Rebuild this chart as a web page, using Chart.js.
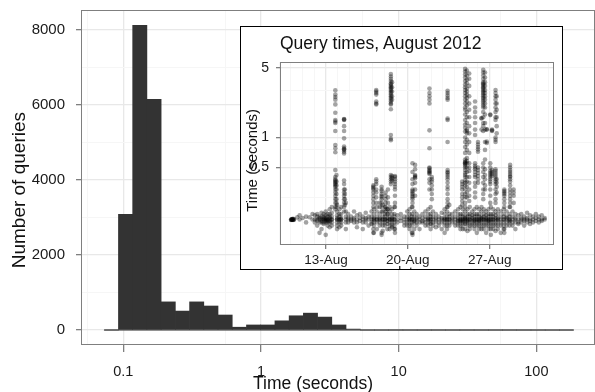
<!DOCTYPE html>
<html>
<head>
<meta charset="utf-8">
<script src="https://cdn.jsdelivr.net/npm/chart.js@4.4.1/dist/chart.umd.min.js"></script>
<style>
  body { margin: 0; background: #fff; }
  #wrap { position: relative; width: 595px; height: 392px; overflow: hidden; background: #fff;
          font-family: "Liberation Sans", Arial, Helvetica, sans-serif; color: #111; }
  canvas { position: absolute; left: 0; top: 0; display: block; }
  .lbl { position: absolute; white-space: nowrap; line-height: 1; font-weight: normal; }
  .vert { position: absolute; top: 0; display: flex; align-items: center; justify-content: center; }
  .vert span { writing-mode: vertical-rl; transform: rotate(180deg); white-space: nowrap; line-height: 1; }
  #inset { position: absolute; left: 240px; top: 26px; width: 321px; height: 242px;
           border: 1px solid #000; background: #fff; overflow: hidden; }
</style>
</head>
<body>
<div id="wrap">
  <canvas id="main" width="595" height="392"></canvas>
  <div class="vert" style="left:8px;width:20px;height:380px;font-size:19px"><span>Number of queries</span></div>
  <div class="lbl" style="left:313px;top:384px;font-size:17.5px;transform:translate(-50%,-50%)">Time (seconds)</div>
  <div id="inset">
    <canvas id="insetChart" width="321" height="242"></canvas>
    <div class="lbl" style="left:39px;top:8px;font-size:17.5px">Query times, August 2012</div>
    <div class="vert" style="left:2px;width:16px;height:266px;font-size:15px"><span>Time (seconds)</span></div>
    <div class="lbl" style="left:166px;top:238px;font-size:14px;transform:translateX(-50%)">date</div>
  </div>
</div>
<script>
// histogram: bin edges in seconds (equal width on the log axis) and counts per bin
const binEdges = [0.0727, 0.0922, 0.1170, 0.1484, 0.1883, 0.2388, 0.3030, 0.3843, 0.4875, 0.6184,
  0.7845, 0.9950, 1.262, 1.601, 2.031, 2.576, 3.268, 4.146, 5.259, 6.672, 8.464, 10.74, 13.62,
  17.28, 21.92, 27.80, 35.27, 44.74, 56.76, 72.00, 91.34, 115.9, 147.0, 186.4];
const binCounts = [0, 3080, 8120, 6150, 750, 505, 750, 640, 400, 75, 135, 135, 245, 380, 450,
  345, 135, 25, 0, 0, 0, 0, 0, 0, 0, 0, 0, 0, 0, 0, 0, 0, 0];

const xTickValues = [0.1, 1, 10, 100];
const xTickLabels = ['0.1', '1', '10', '100'];
const xMinorValues = [0.055, 0.55, 5.5, 55];
const yTickValues = [0, 2000, 4000, 6000, 8000];
const yMinorValues = [1000, 3000, 5000, 7000];

// inset: day of August 2012 and query times (seconds)
const insetBaseline = [
  [10.02,[0.150,0.148,0.149]],[10.1,[0.151,0.149,0.150,0.150]],[10.18,[0.150,0.152,0.148,0.149]],[10.27,[0.149,0.151]],
  [10.55,[0.158]],[10.75,[0.150,0.165]],[11.0,[0.155]],[11.3,[0.16,0.14]],[11.6,[0.158]],[11.85,[0.15,0.17]],
  [12.05,[0.165,0.15,0.14]],[12.25,[0.17,0.16,0.15,0.145,0.13]],[12.45,[0.16,0.155,0.15,0.14,0.11]],
  [12.62,[0.175,0.16,0.15,0.145,0.14,0.12]],[12.8,[0.17,0.16,0.155,0.15,0.14,0.135,0.15]],
  [12.98,[0.18,0.165,0.155,0.15,0.145,0.14,0.105,0.15]],[13.15,[0.17,0.16,0.15,0.145,0.14,0.13,0.15]],
  [13.32,[0.19,0.17,0.16,0.15,0.145,0.14,0.125,0.155]],[13.5,[0.2,0.175,0.16,0.15,0.14,0.13,0.15]],
  [13.95,[0.21,0.18,0.165,0.155,0.15,0.14,0.13,0.12,0.15]],[14.15,[0.19,0.17,0.16,0.15,0.14,0.125,0.15]],
  [14.3,[0.2,0.17,0.155,0.15,0.14,0.13,0.15]],[14.7,[0.22,0.18,0.16,0.15,0.14,0.12]],
  [14.9,[0.17,0.155,0.15,0.14]],[15.15,[0.16,0.15,0.145]],[15.4,[0.18,0.155,0.15,0.14]],
  [15.65,[0.165,0.15,0.14,0.125]],[15.9,[0.17,0.155,0.145]],[16.15,[0.16,0.15,0.14,0.12]],
  [16.4,[0.175,0.155,0.15,0.14]],[16.65,[0.16,0.15,0.13]],[16.9,[0.18,0.16,0.15,0.14,0.135]],
  [17.1,[0.19,0.17,0.155,0.15,0.14,0.13,0.11,0.15]],[17.35,[0.2,0.18,0.16,0.15,0.14,0.12,0.15]],
  [17.6,[0.22,0.2,0.17,0.155,0.15,0.14,0.13,0.15]],[17.85,[0.21,0.18,0.16,0.15,0.14,0.13,0.115,0.15]],
  [18.05,[0.2,0.17,0.16,0.15,0.14,0.13,0.15]],[18.25,[0.19,0.17,0.155,0.15,0.145,0.135,0.12]],
  [18.45,[0.2,0.18,0.16,0.15,0.14,0.13,0.12,0.15]],[18.65,[0.19,0.17,0.155,0.15,0.14,0.13,0.125,0.15]],
  [18.85,[0.2,0.17,0.16,0.15,0.14,0.13,0.12,0.15]],[19.1,[0.165,0.15,0.14]],[19.4,[0.17,0.155,0.145]],
  [19.7,[0.16,0.15,0.14,0.13]],[19.95,[0.18,0.16,0.15,0.14,0.13]],[20.15,[0.19,0.17,0.155,0.15,0.14,0.13,0.12,0.15]],
  [20.35,[0.2,0.17,0.16,0.15,0.14,0.13,0.11,0.15]],[20.55,[0.18,0.16,0.15,0.145,0.14,0.12]],
  [20.75,[0.17,0.155,0.15,0.14,0.13]],[21.0,[0.16,0.15,0.14,0.12]],[21.25,[0.17,0.155,0.145,0.14]],
  [21.5,[0.18,0.16,0.15,0.14,0.13]],[21.75,[0.19,0.17,0.155,0.15,0.14,0.13,0.15]],
  [21.95,[0.2,0.17,0.16,0.15,0.14,0.135,0.12,0.15]],[22.15,[0.18,0.16,0.15,0.14,0.13]],
  [22.4,[0.17,0.155,0.15,0.14,0.125]],[22.65,[0.16,0.15,0.14,0.13]],[22.9,[0.175,0.155,0.15,0.14,0.12]],
  [23.15,[0.19,0.17,0.155,0.15,0.14,0.13,0.11,0.15]],[23.35,[0.2,0.18,0.16,0.15,0.14,0.13,0.12,0.15]],
  [23.55,[0.21,0.17,0.16,0.15,0.14,0.13,0.15]],[23.8,[0.17,0.155,0.15,0.14]],[24.05,[0.18,0.16,0.15,0.14,0.13]],
  [24.3,[0.19,0.17,0.155,0.15,0.145,0.14,0.13]],[24.5,[0.2,0.17,0.16,0.15,0.145,0.14,0.13,0.12,0.15]],
  [24.7,[0.19,0.17,0.16,0.15,0.145,0.14,0.13,0.12,0.15]],[24.9,[0.2,0.18,0.16,0.155,0.15,0.14,0.135,0.12,0.15]],
  [25.1,[0.19,0.17,0.16,0.15,0.145,0.14,0.13,0.115,0.15]],[25.3,[0.2,0.17,0.16,0.15,0.14,0.13,0.12,0.15]],
  [25.5,[0.18,0.165,0.155,0.15,0.14,0.13]],[25.7,[0.19,0.17,0.16,0.15,0.145,0.14,0.13,0.12,0.15]],
  [25.9,[0.2,0.17,0.16,0.15,0.14,0.13,0.11,0.15]],[26.1,[0.19,0.17,0.16,0.15,0.145,0.14,0.13,0.12,0.15]],
  [26.3,[0.2,0.18,0.16,0.155,0.15,0.14,0.13,0.12,0.15]],[26.5,[0.19,0.17,0.16,0.15,0.14,0.13,0.12,0.15]],
  [26.7,[0.18,0.165,0.155,0.15,0.14,0.13,0.11,0.15]],[26.9,[0.19,0.17,0.16,0.15,0.145,0.14,0.13,0.12,0.15]],
  [27.1,[0.2,0.17,0.16,0.15,0.14,0.13,0.12,0.105,0.15]],[27.3,[0.19,0.17,0.16,0.15,0.14,0.13,0.12,0.15]],
  [27.5,[0.18,0.165,0.155,0.15,0.14,0.13,0.115]],[27.7,[0.19,0.17,0.155,0.15,0.14,0.13,0.12,0.15]],
  [27.95,[0.18,0.16,0.15,0.14,0.13,0.11]],[28.2,[0.19,0.17,0.16,0.15,0.14,0.13,0.12,0.15]],
  [28.45,[0.18,0.16,0.155,0.15,0.14,0.13]],[28.7,[0.2,0.17,0.16,0.15,0.145,0.14,0.13,0.15]],
  [28.95,[0.18,0.16,0.15,0.14,0.13]],[29.2,[0.17,0.155,0.15,0.14,0.12]],[29.45,[0.165,0.15,0.14,0.135]],
  [29.7,[0.17,0.155,0.15,0.14]],[29.95,[0.16,0.15,0.145,0.13]],[30.2,[0.175,0.155,0.15,0.14]],
  [30.45,[0.165,0.15,0.145,0.135]],[30.7,[0.16,0.15,0.14]],[30.95,[0.17,0.155,0.145]],
  [31.2,[0.16,0.15,0.14]],[31.45,[0.165,0.15,0.145]],[31.7,[0.155,0.15]]
];
const insetStreaks = [
  [13.8,[2.98,2.7,2.55,2.4,2.15,1.77,1.5,1.45,1.4,1.16,0.84,0.78,0.71,0.47,0.4,0.38,0.37,0.36,0.35,0.34,0.33,0.32,0.3,0.28,0.26,0.24,0.22,0.2,0.19]],
  [13.9,[0.42,0.36,0.33,0.3,0.27,0.24,0.22,0.2]],
  [14.55,[1.53,1.52,1.5,1.3,1.16,0.98,0.81,0.78,0.76,0.75,0.72,0.69,0.37,0.34,0.3,0.28,0.26,0.24,0.22,0.2,0.18]],
  [14.62,[0.3,0.27,0.24,0.21]],
  [17.05,[0.33,0.32,0.31,0.3,0.28,0.26,0.24,0.22,0.2,0.12,0.11]],
  [17.3,[3.0,2.9,2.8,2.7,2.3,2.2,2.15,0.38,0.36,0.34,0.3,0.28,0.25,0.22]],
  [17.76,[0.32,0.3,0.29,0.27,0.26,0.25,0.24,0.22,0.2,0.18,0.11,0.105]],
  [18.1,[0.28,0.26,0.24,0.22,0.2,0.19,0.18]],
  [18.3,[0.3,0.25,0.22,0.19,0.17]],
  [18.55,[4.35,4.1,3.9,3.7,3.5,3.4,3.3,3.2,3.1,3.0,2.9,2.8,2.7,2.6,2.5,2.4,2.3,2.2,2.15,1.92,1.06,0.97,0.94,0.42,0.4,0.38,0.36,0.34]],
  [18.65,[3.6,3.2,2.9,2.6,2.4,0.41,0.39,0.37]],
  [18.9,[0.41,0.4,0.38,0.36,0.34,0.32,0.3,0.26,0.22,0.2,0.12,0.11]],
  [20.4,[0.55,0.45,0.38,0.34,0.3,0.29,0.28,0.27,0.26,0.25,0.24,0.22,0.2,0.11,0.105]],
  [20.62,[0.53,0.48,0.42,0.41,0.4,0.39,0.35,0.3,0.26]],
  [21.85,[3.1,2.8,2.6,2.4,2.2,1.18,0.78,0.5,0.49,0.47,0.46,0.45,0.44,0.43,0.38,0.35,0.3]],
  [22.05,[0.4,0.38,0.36,0.33,0.3,0.27,0.24]],
  [23.4,[2.95,2.8,2.65,2.5,2.4,1.55,1.5,0.9,0.47,0.45,0.44,0.42,0.4,0.38,0.35,0.32,0.3,0.27,0.24,0.22,0.2]],
  [24.65,[0.36,0.34,0.32,0.3,0.27,0.25,0.23,0.21]],
  [24.9,[4.9,4.6,4.3,4.0,3.7,3.4,3.2,3.0,2.8,2.6,2.4,2.2,2.0,1.9,1.7,1.5,1.35,1.25,1.15,1.0,0.9,0.8,0.7,0.6,0.57,0.56,0.55,0.54,0.52,0.5,0.47,0.44,0.42,0.4,0.37,0.35,0.33,0.3,0.27,0.25,0.22]],
  [25.05,[4.7,4.2,3.8,3.5,3.1,2.9,2.7,2.5,2.3,2.1,1.8,1.6,1.4,1.2,1.16,1.1,0.95,0.85,0.75,0.62,0.58,0.55,0.5,0.45,0.4,0.36,0.32,0.28,0.25]],
  [25.25,[4.4,3.9,3.3,2.6,2.2,1.9,1.6,1.3,1.1,0.9,0.7,0.55,0.5,0.46,0.4,0.35,0.3,0.26,0.23]],
  [25.75,[2.3,2.0,1.8,1.6,1.4,1.2,1.06,0.55,0.52,0.5,0.48,0.45,0.42,0.4,0.35,0.32,0.28,0.25]],
  [26.0,[0.9,0.85,0.8,0.76,0.72,0.5,0.47,0.44,0.41,0.38,0.35]],
  [26.3,[1.57,1.55,1.2]],
  [26.45,[4.8,4.5,4.2,3.9,3.6,3.5,3.4,3.3,3.2,3.1,3.0,2.9,2.8,2.7,2.6,2.5,2.4,2.3,2.2,2.1,2.0,1.8,1.6,1.4,1.3,1.16,0.55,0.5,0.45,0.4,0.35,0.3,0.27,0.24]],
  [26.6,[4.5,4.0,3.6,3.3,3.0,2.8,2.6,2.4,2.2,2.0,1.7,1.4,1.2,0.9,0.75,0.6,0.48,0.42,0.38,0.33,0.3]],
  [26.75,[1.21,1.2,0.91,0.88]],
  [27.05,[1.7,1.68,0.55,0.5,0.46,0.44,0.42,0.4,0.38,0.36,0.34,0.3,0.26,0.22]],
  [27.2,[1.2,1.18,1.16,0.47,0.45,0.43,0.41]],
  [27.5,[3.0,2.8,2.6,2.4,2.2,2.0,1.8,1.6,1.5,1.0,0.95,0.9,0.48,0.46,0.44,0.42,0.4,0.38,0.36,0.34,0.3,0.27,0.24,0.22]],
  [27.6,[2.6,2.2,1.9,1.6,1.3,1.1,0.38,0.35,0.32,0.28]],
  [28.25,[0.3,0.29,0.28,0.27,0.26,0.24,0.22,0.2,0.12,0.11]],
  [28.75,[0.53,0.5,0.47,0.45,0.43,0.41,0.4,0.38,0.36,0.33,0.3,0.28,0.26,0.24,0.22,0.2]],
  [29.05,[0.3,0.28,0.26,0.22]]
];
const insetXTicks = [13, 20, 27];
const insetXLabels = ['13-Aug', '20-Aug', '27-Aug'];
const insetXMinor = [9, 10, 11, 12, 14, 15, 16, 17, 18, 19, 21, 22, 23, 24, 25, 26, 28, 29, 30, 31, 32];
const insetYTicks = [0.5, 1, 5];
const insetYMinor = [0.25, 0.75, 3];

const FONT = '"Liberation Sans", Arial, Helvetica, sans-serif';

// draws the grey panel frame like ggplot's theme_bw
const panelBorder = {
  id: 'panelBorder',
  afterDraw(chart) {
    const a = chart.chartArea, c = chart.ctx;
    c.save();
    c.strokeStyle = '#7f7f7f';
    c.lineWidth = 1;
    c.strokeRect(a.left + 0.5, a.top + 0.5, a.right - a.left - 1, a.bottom - a.top - 1);
    c.restore();
  }
};

function tickList(major, minor) {
  return major.concat(minor).sort((a, b) => a - b).map(v => ({ value: v }));
}
function fixSize(prop, size) {
  return s => {
    s[prop] = size;
    s.paddingTop = 0; s.paddingBottom = 0; s.paddingLeft = 0; s.paddingRight = 0;
  };
}

// main histogram
const barData = binCounts.map((n, i) => ({ x: Math.sqrt(binEdges[i] * binEdges[i + 1]), y: n }));

new Chart(document.getElementById('main'), {
  type: 'bar',
  data: {
    datasets: [{
      data: barData,
      backgroundColor: '#333333',
      borderWidth: 0,
      barPercentage: 1,
      categoryPercentage: 1
    }, {
      type: 'line',
      data: [{ x: binEdges[0], y: 0 }, { x: binEdges[binEdges.length - 1], y: 0 }],
      borderColor: '#333333',
      borderWidth: 1,
      pointRadius: 0
    }]
  },
  options: {
    responsive: false,
    animation: false,
    devicePixelRatio: 1,
    layout: { padding: { top: 10, right: 0, bottom: 0, left: 0 } },
    plugins: { legend: { display: false }, tooltip: { enabled: false } },
    scales: {
      x: {
        type: 'logarithmic',
        min: 0.0493,
        max: 266.5,
        bounds: 'data',
        offset: false,
        afterBuildTicks: s => { s.ticks = tickList(xTickValues, xMinorValues); },
        afterFit: fixSize('height', 47),
        border: { display: false },
        grid: {
          offset: false,
          color: c => xTickValues.includes(c.tick.value) ? '#e8e8e8' : '#f6f6f6',
          lineWidth: c => xTickValues.includes(c.tick.value) ? 1.3 : 1,
          tickColor: c => xTickValues.includes(c.tick.value) ? '#7f7f7f' : 'rgba(0,0,0,0)',
          tickLength: 7
        },
        ticks: {
          autoSkip: false,
          maxRotation: 0,
          padding: 11,
          color: '#1a1a1a',
          font: { family: FONT, size: 14.5 },
          callback: v => { const i = xTickValues.indexOf(v); return i < 0 ? '' : xTickLabels[i]; }
        }
      },
      y: {
        type: 'linear',
        min: -399,
        max: 8527,
        afterBuildTicks: s => { s.ticks = tickList(yTickValues, yMinorValues); },
        afterFit: fixSize('width', 81),
        border: { display: false },
        grid: {
          color: c => yTickValues.includes(c.tick.value) ? '#e8e8e8' : '#f6f6f6',
          lineWidth: c => yTickValues.includes(c.tick.value) ? 1.3 : 1,
          tickColor: c => yTickValues.includes(c.tick.value) ? '#7f7f7f' : 'rgba(0,0,0,0)',
          tickLength: 5
        },
        ticks: {
          autoSkip: false,
          padding: 11,
          color: '#1a1a1a',
          font: { family: FONT, size: 15 },
          callback: v => yTickValues.includes(v) ? String(v) : ''
        }
      }
    }
  },
  plugins: [panelBorder]
});

// inset scatter
const insetPoints = [];
insetBaseline.concat(insetStreaks).forEach(([day, times]) => {
  times.forEach(t => insetPoints.push({ x: day, y: t }));
});

new Chart(document.getElementById('insetChart'), {
  type: 'scatter',
  data: {
    datasets: [{
      data: insetPoints,
      backgroundColor: 'rgba(0,0,0,0.36)',
      borderWidth: 0,
      pointRadius: 2.3
    }]
  },
  options: {
    responsive: false,
    animation: false,
    devicePixelRatio: 1,
    layout: { padding: { top: 35, right: 8, bottom: 0, left: 0 } },
    plugins: { legend: { display: false }, tooltip: { enabled: false } },
    scales: {
      x: {
        type: 'linear',
        min: 9.07,
        max: 32.5,
        afterBuildTicks: s => { s.ticks = tickList(insetXTicks, insetXMinor); },
        afterFit: fixSize('height', 24),
        border: { display: false },
        grid: {
          color: c => insetXTicks.includes(c.tick.value) ? '#e8e8e8' : '#f6f6f6',
          lineWidth: c => insetXTicks.includes(c.tick.value) ? 1.3 : 1,
          tickColor: c => insetXTicks.includes(c.tick.value) ? '#7f7f7f' : 'rgba(0,0,0,0)',
          tickLength: 4
        },
        ticks: {
          autoSkip: false,
          maxRotation: 0,
          padding: 3,
          color: '#1a1a1a',
          font: { family: FONT, size: 13.5 },
          callback: v => { const i = insetXTicks.indexOf(v); return i < 0 ? '' : insetXLabels[i]; }
        }
      },
      y: {
        type: 'logarithmic',
        min: 0.083,
        max: 5.74,
        bounds: 'data',
        afterBuildTicks: s => { s.ticks = tickList(insetYTicks, insetYMinor); },
        afterFit: fixSize('width', 39),
        border: { display: false },
        grid: {
          color: c => insetYTicks.includes(c.tick.value) ? '#e8e8e8' : '#f6f6f6',
          lineWidth: c => insetYTicks.includes(c.tick.value) ? 1.3 : 1,
          tickColor: c => insetYTicks.includes(c.tick.value) ? '#7f7f7f' : 'rgba(0,0,0,0)',
          tickLength: 4
        },
        ticks: {
          autoSkip: false,
          padding: 7,
          color: '#1a1a1a',
          font: { family: FONT, size: 14 },
          callback: v => insetYTicks.includes(v) ? String(v) : ''
        }
      }
    }
  },
  plugins: [panelBorder]
});
</script>
</body>
</html>
